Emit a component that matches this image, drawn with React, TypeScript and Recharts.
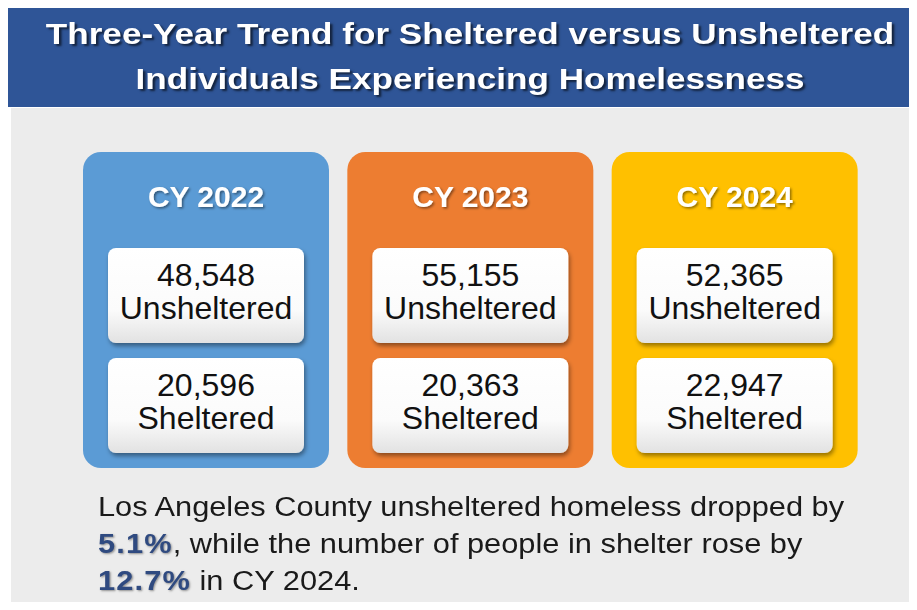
import React from 'react';
import { BarChart, Bar, XAxis, YAxis } from 'recharts';

const years = ['CY 2022', 'CY 2023', 'CY 2024'];
const unsheltered = [48548, 55155, 52365];
const sheltered = [20596, 20363, 22947];
const cardColors = ['#5b9bd5', '#ed7d31', '#ffc000'];

const data = years.map((year, i) => ({
  year,
  unsheltered: unsheltered[i],
  sheltered: sheltered[i],
}));

const FONT = '"Liberation Sans", Arial, sans-serif';
const CARD_TOP = 152;

const fmt = (n: number) => n.toLocaleString('en-US');

const CardShape = (props: any) => {
  const { x, width, y, height, payload, index } = props;
  const bottom = y + height;
  const top = CARD_TOP;
  const cx = x + width / 2;
  const boxW = 196;
  const boxH = 95;
  const box1 = top + 96;
  const box2 = top + 206;
  const gid = `boxGrad${index}`;
  const sid = `boxShadow${index}`;
  const tid = `txtShadow${index}`;
  const box = (by: number, value: number, label: string) => (
    <g>
      <rect x={cx - boxW / 2} y={by} width={boxW} height={boxH} rx={8} fill={`url(#${gid})`} filter={`url(#${sid})`} />
      <text x={cx} y={by + 38} textAnchor="middle" fontFamily={FONT} fontSize={32} fill="#111">{fmt(value)}</text>
      <text x={cx} y={by + 71} textAnchor="middle" fontFamily={FONT} fontSize={32} fill="#111">{label}</text>
    </g>
  );
  return (
    <g>
      <defs>
        <linearGradient id={gid} x1="0" y1="0" x2="0" y2="1">
          <stop offset="0%" stopColor="#ffffff" />
          <stop offset="65%" stopColor="#fbfbfb" />
          <stop offset="100%" stopColor="#e2e2e2" />
        </linearGradient>
        <filter id={sid} x="-10%" y="-10%" width="125%" height="130%">
          <feDropShadow dx="1.5" dy="3" stdDeviation="2" floodColor="#000" floodOpacity="0.4" />
        </filter>
        <filter id={tid} x="-10%" y="-20%" width="125%" height="150%">
          <feDropShadow dx="1.5" dy="1.5" stdDeviation="1" floodColor="#000" floodOpacity="0.45" />
        </filter>
      </defs>
      <rect x={x} y={top} width={width} height={bottom - top} rx={18} fill={cardColors[index]} />
      <text x={cx} y={top + 55} textAnchor="middle" fontFamily={FONT} fontWeight="bold" fontSize={30} fill="#fff" filter={`url(#${tid})`}>
        {payload.year}
      </text>
      {box(box1, payload.unsheltered, 'Unsheltered')}
      {box(box2, payload.sheltered, 'Sheltered')}
    </g>
  );
};

export default function App() {
  const bold = { color: '#2f4a80', textShadow: '1px 1px 2px rgba(0,0,0,0.4)', letterSpacing: 1 };
  return (
    <div style={{ position: 'relative', width: 917, height: 610, margin: -8, overflow: 'hidden', background: '#fff', fontFamily: FONT }}>
      <div style={{ position: 'absolute', left: 11, top: 108, right: 0, bottom: 0, background: '#ececec' }} />
      <div style={{ position: 'absolute', left: 7, top: 7, width: 926, height: 100, background: '#2f5597' }}>
        <div
          style={{
            color: '#fff', fontWeight: 'bold', fontSize: 29, lineHeight: '45px', textAlign: 'center',
            paddingTop: 5, textShadow: '2px 2px 2px rgba(0,0,0,0.6)', transform: 'scaleX(1.21)', transformOrigin: '50% 50%',
          }}
        >
          Three-Year Trend for Sheltered versus Unsheltered
          <br />
          Individuals Experiencing Homelessness
        </div>
      </div>
      <div style={{ position: 'absolute', left: 0, top: 0 }}>
        <BarChart width={917} height={610} data={data} margin={{ top: CARD_TOP, right: 50, bottom: 142, left: 74 }}>
          <XAxis dataKey="year" hide />
          <YAxis hide domain={[0, 60000]} />
          <Bar dataKey="unsheltered" barSize={246} shape={CardShape} isAnimationActive={false} />
        </BarChart>
      </div>
      <div
        style={{
          position: 'absolute', left: 98, top: 489, fontSize: 27, lineHeight: '37px', color: '#1a1a1a',
          whiteSpace: 'nowrap', transform: 'scaleX(1.14)', transformOrigin: '0 0',
        }}
      >
        Los Angeles County unsheltered homeless dropped by
        <br />
        <b style={bold}>5.1%</b>, while the number of people in shelter rose by
        <br />
        <b style={bold}>12.7%</b> in CY 2024.
      </div>
    </div>
  );
}
